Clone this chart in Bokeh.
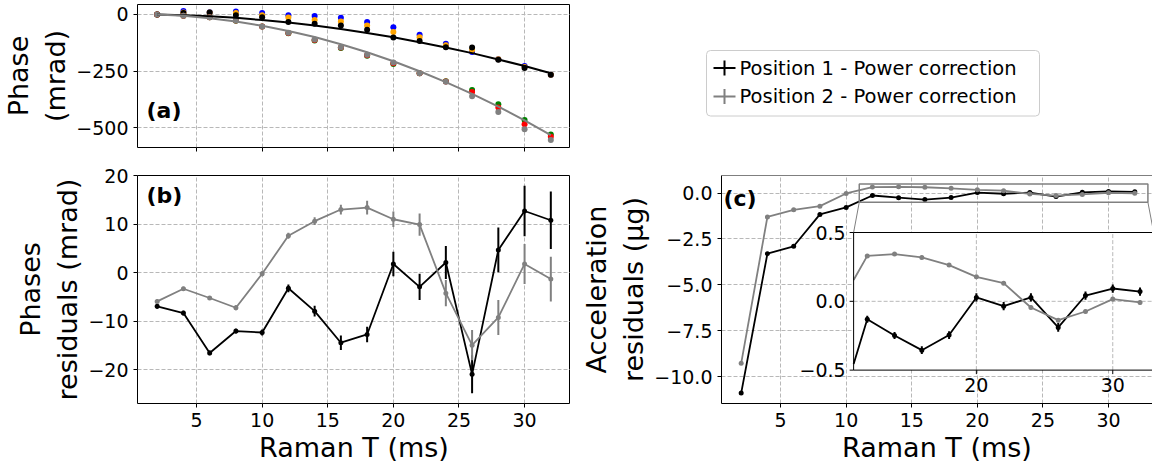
import numpy as np
from bokeh.plotting import figure
from bokeh.layouts import row, column
from bokeh.models import Range1d, FixedTicker, Label, Span
from bokeh.embed import file_html
from bokeh.resources import INLINE
from bokeh.core.properties import value

# ---------------- data ----------------
T_ms = [2, 4, 6, 8, 10, 12, 14, 16, 18, 20, 22, 24, 26, 28, 30, 32]

# (a) measured interferometer phases (mrad)
phase_p1_blue   = [0, 15, 10, 13, 6, -3, -7, -15, -33, -56, -90, -130, -166, -198, -228, -266]
phase_p1_orange = [0, 9, 9, 6, -3, -13, -24, -31, -49, -78, -101, -136, -157, -198, -232, -266]
phase_p1_black  = [0, 6, 9, -4, -12, -33, -41, -49, -68, -102, -117, -145, -146, -200, -237, -266]
phase_p2_green  = [0, -6, -12, -28, -53, -83, -115, -148, -183, -219, -260, -295, -334, -397, -466, -530]
phase_p2_red    = [0, -6, -12, -27, -53, -82, -113, -146, -180, -216, -260, -296, -343, -411, -485, -540]
phase_p2_gray   = [0, -6, -12, -27, -53, -81, -111, -145, -178, -212, -260, -297, -361, -431, -507, -555]
fit_p1 = [0, -3, -8, -15, -25, -36, -49, -64, -82, -101, -123, -146, -171, -199, -228, -260]
fit_p2 = [0, -6, -17, -31, -50, -73, -100, -132, -167, -207, -251, -299, -351, -407, -468, -533]

# (b) phase residuals (mrad)
res_p1     = [-6.9, -8.3, -16.5, -12.0, -12.3, -3.2, -7.9, -14.4, -12.7, 1.8, -2.9, 2.1, -20.9, 4.7, 12.7, 10.8]
res_p1_err = [0.5, 0.5, 0.5, 0.5, 0.6, 0.8, 1.1, 1.5, 1.6, 2.5, 2.7, 3.4, 3.9, 4.6, 5.2, 5.9]
res_p2     = [-5.9, -3.3, -5.2, -7.2, -0.2, 7.6, 10.6, 13.0, 13.4, 11.0, 9.9, -4.2, -14.9, -9.2, 1.8, -1.3]
res_p2_err = [0.4, 0.4, 0.4, 0.5, 0.5, 0.6, 0.8, 1.0, 1.4, 1.6, 2.3, 2.7, 3.1, 3.6, 4.1, 4.6]

# (c) acceleration residuals (ug)
acc_p1     = [-10.9, -3.3, -2.9, -1.16, -0.78, -0.13, -0.248, -0.355, -0.245, 0.028, -0.035, 0.028, -0.19, 0.042, 0.093, 0.071]
acc_p1_err = [0.01, 0.01, 0.01, 0.01, 0.015, 0.025, 0.025, 0.028, 0.028, 0.03, 0.03, 0.03, 0.032, 0.03, 0.03, 0.03]
acc_p2     = [-9.28, -1.30, -0.91, -0.71, -0.02, 0.33, 0.343, 0.319, 0.263, 0.178, 0.132, -0.045, -0.137, -0.074, 0.016, -0.008]
acc_p2_err = [0.01, 0.01, 0.01, 0.01, 0.01, 0.012, 0.012, 0.013, 0.013, 0.014, 0.014, 0.015, 0.015, 0.015, 0.015, 0.015]

x_ticks = [5, 10, 15, 20, 25, 30]
a_yticks, a_ylabels = [0, -250, -500], ["0", "\u2212250", "\u2212500"]
b_yticks, b_ylabels = [20, 10, 0, -10, -20], ["20", "10", "0", "\u221210", "\u221220"]
c_yticks, c_ylabels = [0.0, -2.5, -5.0, -7.5, -10.0], ["0.0", "\u22122.5", "\u22125.0", "\u22127.5", "\u221210.0"]
in_yticks, in_ylabels = [0.5, 0.0, -0.5], ["0.5", "0.0", "\u22120.5"]
in_xticks, in_xlabels = [20, 30], ["20", "30"]
legend_labels = ["Position 1 - Power correction", "Position 2 - Power correction"]

# ---------------- style ----------------
FONT = "DejaVu Sans"
TICK_FS = "19px"
LABEL_FS = "27px"
GRID = "#b8b8b8"
GRAY = "#808080"
BLACK = "black"
YLAB_STANDOFF = 2


def make_fig(xr, yr, fw, fh, ml, mr, mt, mb):
    p = figure(x_range=Range1d(*xr), y_range=Range1d(*yr), frame_width=fw, frame_height=fh,
               min_border_left=ml, min_border_right=mr, min_border_top=mt, min_border_bottom=mb,
               title=None, output_backend="svg", toolbar_location=None)
    p.outline_line_color = "black"
    p.outline_line_width = 1
    for ax in p.axis:
        ax.axis_line_color = None
        ax.major_tick_line_color = "black"
        ax.major_tick_out = 4
        ax.major_tick_in = 0
        ax.minor_tick_line_color = None
        ax.major_label_text_font = FONT
        ax.major_label_text_font_size = TICK_FS
        ax.major_label_text_color = "black"
        ax.major_label_standoff = 5
        ax.axis_label_text_font = FONT
        ax.axis_label_text_font_size = LABEL_FS
        ax.axis_label_text_font_style = "normal"
        ax.axis_label_text_color = "black"
    p.xaxis.ticker = FixedTicker(ticks=x_ticks)
    p.grid.grid_line_color = GRID
    p.grid.grid_line_dash = "4 2"
    p.grid.grid_line_width = 1
    return p


def set_yticks(p, ticks, labels):
    p.yaxis.ticker = FixedTicker(ticks=ticks)
    p.yaxis.major_label_overrides = {t: l for t, l in zip(ticks, labels)}


def panel_label(p, text, x, y):
    p.add_layout(Label(x=x, y=y, x_units="screen", y_units="screen", text=text,
                       text_font=FONT, text_font_size="22px", text_font_style="bold",
                       text_color="black", text_baseline="middle"))


def errorbars(p, x, y, e, color, width, **kw):
    lo = [v - d for v, d in zip(y, e)]
    hi = [v + d for v, d in zip(y, e)]
    p.segment(x0=x, y0=lo, x1=x, y1=hi, line_color=color, line_width=width, **kw)


# ---------------- panel (a) ----------------
fa = make_fig((0.5, 33.5), (-588, 44), 433, 143, 137, 0, 4, 18)
set_yticks(fa, a_yticks, a_ylabels)
fa.xaxis.major_label_text_font_size = "0px"
fa.xaxis.major_label_text_color = None
fa.yaxis.axis_label = "Phase\n(mrad)"
fa.yaxis.axis_label_standoff = YLAB_STANDOFF
for ys, c in [(phase_p1_blue, "blue"), (phase_p1_orange, "orange"), (phase_p1_black, "black"),
              (phase_p2_green, "green"), (phase_p2_red, "red"), (phase_p2_gray, GRAY)]:
    fa.scatter(T_ms, ys, size=6, fill_color=c, line_color=None)
fa.line(T_ms, fit_p1, line_color=BLACK, line_width=2)
fa.line(T_ms, fit_p2, line_color=GRAY, line_width=2)
panel_label(fa, "(a)", 9, 37)

# ---------------- legend area ----------------
LW, LH = 582, 165
fl = figure(x_range=Range1d(0, LW), y_range=Range1d(LH, 0), frame_width=LW, frame_height=LH,
            min_border=0, x_axis_type=None, y_axis_type=None, title=None,
            output_backend="svg", toolbar_location=None)
fl.outline_line_color = None
fl.grid.visible = False
fl.quad(left=136, right=469, top=46, bottom=111.5, fill_color="white", line_color="#cccccc",
        line_width=1, border_radius=4)
for cy, col, lab in zip([63.5, 92], [BLACK, GRAY], legend_labels):
    fl.segment(x0=[143], y0=[cy], x1=[165], y1=[cy], line_color=col, line_width=2)
    fl.segment(x0=[154], y0=[cy - 7.5], x1=[154], y1=[cy + 7.5], line_color=col, line_width=2)
    fl.text(x=[169], y=[cy], text=[lab], text_font=value(FONT), text_font_size=value("19.5px"),
            text_baseline="middle", text_align="left", text_color="black")

# ---------------- panel (b) ----------------
fb = make_fig((0.5, 33.5), (-26.9, 20), 433, 228, 137, 0, 10, 60)
set_yticks(fb, b_yticks, b_ylabels)
fb.xaxis.axis_label = "Raman T (ms)"
fb.xaxis.axis_label_standoff = 2
fb.yaxis.axis_label = "Phases\nresiduals (mrad)"
fb.yaxis.axis_label_standoff = YLAB_STANDOFF
for y, e, c in [(res_p1, res_p1_err, BLACK), (res_p2, res_p2_err, GRAY)]:
    errorbars(fb, T_ms, y, e, c, 2)
    fb.line(T_ms, y, line_color=c, line_width=1.8)
    fb.scatter(T_ms, y, size=5, fill_color=c, line_color=None)
panel_label(fb, "(b)", 9, 208)

# ---------------- panel (c) with inset ----------------
C_XR = (0.5, 33.35)
C_YR = (-11.47, 0.96)
fc = make_fig(C_XR, C_YR, 431, 228, 151, 0, 10, 60)
set_yticks(fc, c_yticks, c_ylabels)
fc.xaxis.axis_label = "Raman T (ms)"
fc.xaxis.axis_label_standoff = 2
fc.yaxis.axis_label = "Acceleration\nresiduals (\u00b5g)"
fc.yaxis.axis_label_standoff = YLAB_STANDOFF
# right spine of this panel falls outside the window in the reference: draw only left/bottom/top
fc.outline_line_color = None
fc.xaxis.axis_line_color = "black"
fc.yaxis.axis_line_color = "black"
fc.add_layout(Span(location=C_YR[1], dimension="width", line_color="black", line_width=1))
for y, e, c in [(acc_p1, acc_p1_err, BLACK), (acc_p2, acc_p2_err, GRAY)]:
    errorbars(fc, T_ms, y, e, c, 1.5)
    fc.line(T_ms, y, line_color=c, line_width=1.8)
    fc.scatter(T_ms, y, size=5, fill_color=c, line_color=None)

# inset placement (main-axis coordinates) and inset limits
IN_L, IN_R, IN_B, IN_T = 10.57, 33.44, -9.65, -2.148
IX0, IX1 = 11, 33
IY0, IY1 = -0.5, 0.5
ax_ = (IX1 - IX0) / (IN_R - IN_L)
ay_ = (IY1 - IY0) / (IN_T - IN_B)
fc.extra_x_ranges = {"ix": Range1d(IX0 + (C_XR[0] - IN_L) * ax_, IX0 + (C_XR[1] - IN_L) * ax_)}
fc.extra_y_ranges = {"iy": Range1d(IY0 + (C_YR[0] - IN_B) * ay_, IY0 + (C_YR[1] - IN_B) * ay_)}
px_x = 431 / (C_XR[1] - C_XR[0]) / ax_      # px per inset x unit
px_y = 228 / (C_YR[1] - C_YR[0]) / ay_      # px per inset y unit
IN = dict(x_range_name="ix", y_range_name="iy")

# zoom-indicator rectangle and connectors (main coords)
fc.quad(left=IX0, right=IX1, bottom=IY0, top=IY1, fill_color=None, line_color=GRAY, line_width=1.5)
fc.segment(x0=[IX0, IX1], y0=[IY0, IY0], x1=[IN_L, IN_R], y1=[IN_T, IN_T], line_color=GRAY, line_width=1)

# inset background and grid
fc.quad(left=IX0, right=IX1, bottom=IY0, top=IY1, fill_color="white", line_color=None, **IN)
fc.segment(x0=in_xticks, y0=[IY0] * 2, x1=in_xticks, y1=[IY1] * 2, line_color=GRID, line_dash="4 2", **IN)
fc.segment(x0=[IX0], y0=[0.0], x1=[IX1], y1=[0.0], line_color=GRID, line_dash="4 2", **IN)


def clip_from(xs, ys, x0):
    for i in range(len(xs) - 1):
        if xs[i] < x0 <= xs[i + 1]:
            t = (x0 - xs[i]) / (xs[i + 1] - xs[i])
            return [x0] + list(xs[i + 1:]), [ys[i] + t * (ys[i + 1] - ys[i])] + list(ys[i + 1:])
    return list(xs), list(ys)


for y, e, c in [(acc_p1, acc_p1_err, BLACK), (acc_p2, acc_p2_err, GRAY)]:
    sel = [i for i, t in enumerate(T_ms) if t >= IX0]
    xs = [T_ms[i] for i in sel]
    errorbars(fc, xs, [y[i] for i in sel], [e[i] for i in sel], c, 2, **IN)
    cx, cy = clip_from(T_ms, y, IX0)
    fc.line(cx, cy, line_color=c, line_width=1.8, **IN)
    fc.scatter(xs, [y[i] for i in sel], size=5, fill_color=c, line_color=None, **IN)

# inset frame, ticks and tick labels
fc.quad(left=IX0, right=IX1, bottom=IY0, top=IY1, fill_color=None, line_color="black", line_width=1, **IN)
tlx = 4 / px_x
tly = 4 / px_y
fc.segment(x0=[IX0 - tlx] * 3, y0=in_yticks, x1=[IX0] * 3, y1=in_yticks, line_color="black", **IN)
fc.segment(x0=in_xticks, y0=[IY0 - tly] * 2, x1=in_xticks, y1=[IY0] * 2, line_color="black", **IN)
fc.text(x=[IX0] * 3, y=in_yticks, text=in_ylabels, x_offset=-8, text_align="right", text_baseline="middle",
        text_font=value(FONT), text_font_size=value(TICK_FS), text_color="black", **IN)
fc.text(x=in_xticks, y=[IY0] * 2, text=in_xlabels, y_offset=8, text_align="center", text_baseline="top",
        text_font=value(FONT), text_font_size=value(TICK_FS), text_color="black", **IN)
panel_label(fc, "(c)", 2, 205)

root = column(row(fa, fl), row(fb, fc))
open("out.html", "w").write(file_html(root, INLINE))
